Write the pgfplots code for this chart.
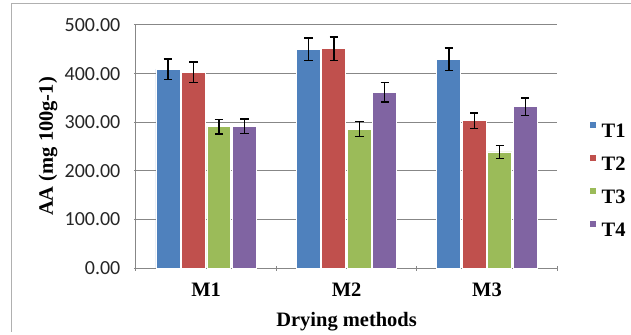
\documentclass[border=0pt]{standalone}
\usepackage{fontspec}
\setmainfont{Liberation Serif}
\newfontfamily\calibri{Carlito}
\usepackage{pgfplots}
\pgfplotsset{compat=1.18}
\definecolor{c1}{HTML}{4F81BD}
\definecolor{c2}{HTML}{C0504D}
\definecolor{c3}{HTML}{9BBB59}
\definecolor{c4}{HTML}{8064A2}
\definecolor{gridc}{HTML}{878787}
\definecolor{framec}{HTML}{B0B0B0}
\begin{document}
\begin{tikzpicture}
\begin{axis}[
  name=ax,
  scale only axis,
  width=421.7pt, height=243.3pt,
  ybar=1.5pt, bar width=24pt,
  xmin=-0.5, xmax=2.5,
  ymin=0, ymax=500,
  ytick={0,100,200,300,400,500},
  xtick={0,1,2},
  xticklabels={M1,M2,M3},
  minor xtick={-0.5,0.5,1.5,2.5},
  major x tick style={draw=none},
  minor x tick style={gridc, line width=1pt},
  minor tick length=5pt,
  major tick length=4pt,
  y tick style={gridc, line width=1pt},
  tick align=outside, tick pos=left,
  axis lines=left,
  axis line style={-, gridc, line width=1pt},
  ymajorgrids, grid style={gridc, line width=1pt},
  /pgf/number format/assume math mode=true,
  yticklabel={\pgfmathprintnumber[fixed,fixed zerofill,precision=2]{\tick}},
  yticklabel style={font=\calibri\fontsize{20}{22}\selectfont, text=black!85, xshift=-10pt},
  xticklabel style={font=\bfseries\fontsize{20.5}{22}\selectfont, yshift=-9pt},
  xlabel={Drying methods},
  ylabel={AA (mg 100g-1)},
  xlabel style={font=\bfseries\fontsize{20.5}{22}\selectfont, at={(axis description cs:0.5,-0.2195)}, anchor=center},
  ylabel style={font=\bfseries\fontsize{20.5}{22}\selectfont, at={(axis description cs:-0.2087,0.5)}, anchor=center},
  legend style={draw=none, fill=none, inner sep=0pt, outer sep=0pt,
    at={(axis description cs:1.0754,0.363)}, anchor=west,
    font=\bfseries\fontsize{20.5}{22}\selectfont,
    nodes={inner sep=0pt}, column sep=5pt, row sep=15pt},
  legend cell align=left,
  legend image code/.code={\fill[#1] (0pt,3.2pt) rectangle (7pt,10.2pt);},
  every axis plot/.append style={draw=white, line width=0.7pt},
  error bars/y dir=both, error bars/y explicit,
  error bars/error bar style={black, line width=1.4pt},
  error bars/error mark options={rotate=90, black, mark size=4.2pt, line width=1.4pt},
]
\addplot[fill=c1] coordinates {(0,409) +- (0,21) (1,450) +- (0,23) (2,430) +- (0,23)};
\addplot[fill=c2] coordinates {(0,403) +- (0,21) (1,451) +- (0,24) (2,303) +- (0,16)};
\addplot[fill=c3] coordinates {(0,291) +- (0,15) (1,286) +- (0,15) (2,239) +- (0,13)};
\addplot[fill=c4] coordinates {(0,292) +- (0,15) (1,362) +- (0,20) (2,332) +- (0,18)};
\legend{T1,T2,T3,T4}
\end{axis}
\begin{scope}[shift={(ax.south west)}]
\draw[framec, line width=1pt] (-124pt,-63.7pt) -- (-124pt,264.8pt) -- (495pt,264.8pt);
\useasboundingbox (-136pt,-63.7pt) rectangle (495pt,268.3pt);
\end{scope}
\end{tikzpicture}
\end{document}
